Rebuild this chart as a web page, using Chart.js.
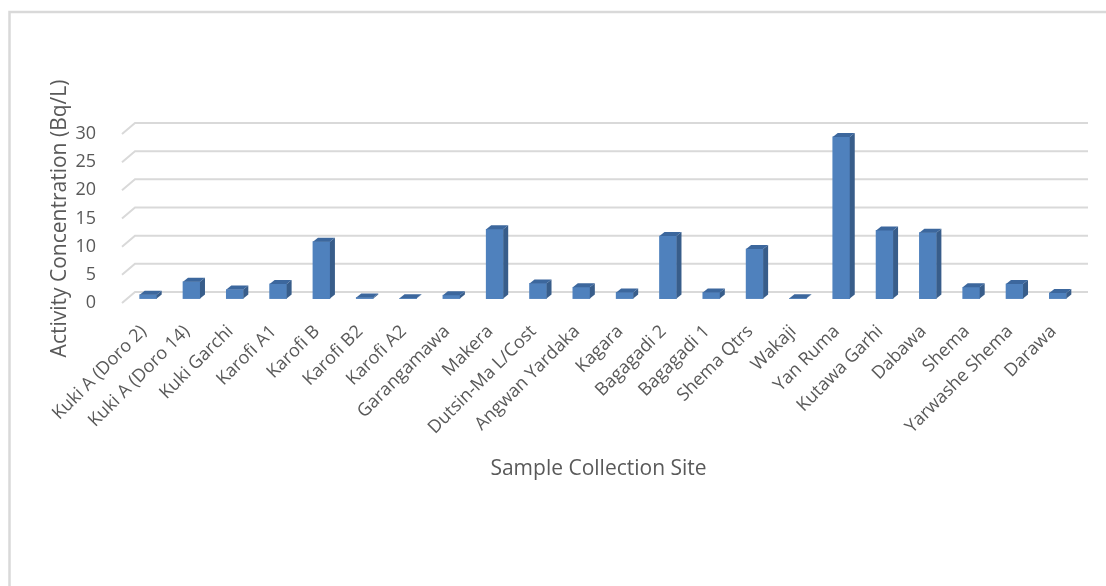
<!DOCTYPE html>
<html>
<head>
<meta charset="utf-8">
<script src="https://cdn.jsdelivr.net/npm/chart.js@4.4.1/dist/chart.umd.min.js"></script>
<style>
	html, body { margin: 0; padding: 0; background: #fff; overflow: hidden; }
	#wrap { width: 1106px; height: 586px; }
</style>
</head>
<body>
<div id="wrap"><canvas id="grafico" width="1106" height="586"></canvas></div>
<script>
// sitios de muestreo
const sites = [
	'Kuki A (Doro 2)', 'Kuki A (Doro 14)', 'Kuki Garchi', 'Karofi A1', 'Karofi B',
	'Karofi B2', 'Karofi A2', 'Garangamawa', 'Makera', 'Dutsin-Ma L/Cost',
	'Angwan Yardaka', 'Kagara', 'Bagagadi 2', 'Bagagadi 1', 'Shema Qtrs',
	'Wakaji', 'Yan Ruma', 'Kutawa Garhi', 'Dabawa', 'Shema',
	'Yarwashe Shema', 'Darawa'
];
// concentracion de actividad (Bq/L)
const activity = [
	0.7, 3.0, 1.6, 2.6, 10.1,
	0.2, 0.05, 0.6, 12.3, 2.7,
	2.0, 1.1, 11.1, 1.1, 8.8,
	0.05, 28.7, 12.1, 11.7, 2.0,
	2.6, 1.0
];
const yMin = 0;
const yMax = 30;
const yStep = 5;
const yTitle = 'Activity Concentration (Bq/L)';
const xTitle = 'Sample Collection Site';

// efecto 3D (pixeles)
const depth = { floorX: 13, floorY: 11, barX: 4.5, barY: 4.4, faceX: 5, faceY: 4 };
const colors = { front: '#4f81bd', side: '#385d8a', top: '#3c679d', grid: '#d9d9d9', text: '#595959' };

Chart.defaults.font.family = '"Open Sans", sans-serif';

// marco exterior del grafico
const marco = {
	id: 'marco',
	beforeDraw(chart) {
		const ctx = chart.ctx;
		ctx.save();
		ctx.strokeStyle = colors.grid;
		ctx.lineWidth = 2.5;
		ctx.beginPath();
		ctx.moveTo(9.5, chart.height + 5);
		ctx.lineTo(9.5, 12);
		ctx.lineTo(chart.width + 5, 12);
		ctx.stroke();
		ctx.restore();
	}
};

// lineas de fondo y caras laterales de las barras
const fondo3d = {
	id: 'fondo3d',
	beforeDatasetsDraw(chart) {
		const { ctx, chartArea: a, scales: { y } } = chart;
		ctx.save();
		ctx.strokeStyle = colors.grid;
		ctx.lineWidth = 2;
		y.ticks.forEach(t => {
			const yf = y.getPixelForValue(t.value);
			ctx.beginPath();
			ctx.moveTo(a.left, yf);
			ctx.lineTo(a.left + depth.floorX, yf - depth.floorY);
			ctx.lineTo(a.right + depth.floorX, yf - depth.floorY);
			ctx.stroke();
		});
		ctx.restore();
		// las barras van un poco hacia el fondo
		ctx.save();
		ctx.translate(depth.barX, -depth.barY);
	},
	afterDatasetsDraw(chart) {
		const ctx = chart.ctx;
		const fx = depth.faceX, fy = depth.faceY;
		chart.getDatasetMeta(0).data.forEach(bar => {
			const { x, y, base, width } = bar.getProps(['x', 'y', 'base', 'width'], true);
			const l = x - width / 2, r = x + width / 2;
			ctx.fillStyle = colors.side;
			ctx.beginPath();
			ctx.moveTo(r, y);
			ctx.lineTo(r + fx, y - fy);
			ctx.lineTo(r + fx, base - fy);
			ctx.lineTo(r, base);
			ctx.closePath();
			ctx.fill();
			ctx.fillStyle = colors.top;
			ctx.beginPath();
			ctx.moveTo(l, y);
			ctx.lineTo(l + fx, y - fy);
			ctx.lineTo(r + fx, y - fy);
			ctx.lineTo(r, y);
			ctx.closePath();
			ctx.fill();
		});
		ctx.restore();
	}
};

new Chart(document.getElementById('grafico'), {
	type: 'bar',
	data: {
		labels: sites,
		datasets: [{
			data: activity,
			backgroundColor: colors.front,
			barThickness: 17,
			clip: false
		}]
	},
	options: {
		responsive: false,
		animation: false,
		devicePixelRatio: 1,
		layout: { padding: { left: 30, top: 134, right: 31, bottom: 80 } },
		plugins: { legend: { display: false }, tooltip: { enabled: false } },
		scales: {
			x: {
				grid: { display: false },
				border: { display: false },
				ticks: {
					autoSkip: false,
					minRotation: 45,
					maxRotation: 45,
					padding: 10,
					color: colors.text,
					font: { size: 18 }
				},
				title: {
					display: true,
					text: xTitle,
					color: colors.text,
					font: { size: 21 },
					padding: { top: 0, bottom: 24 }
				},
				afterFit(s) {
					s.height = 203;
					s.paddingLeft = 0;
					s.paddingRight = 0;
				}
			},
			y: {
				min: yMin,
				max: yMax,
				grid: { display: false },
				border: { display: false },
				ticks: {
					stepSize: yStep,
					padding: 18,
					color: colors.text,
					font: { size: 18 }
				},
				title: {
					display: true,
					text: yTitle,
					color: colors.text,
					font: { size: 21 },
					padding: { top: 17, bottom: 0 }
				},
				afterFit(s) {
					s.width = 92;
					s.paddingTop = 0;
					s.paddingBottom = 0;
				}
			}
		}
	},
	plugins: [marco, fondo3d]
});
</script>
</body>
</html>
